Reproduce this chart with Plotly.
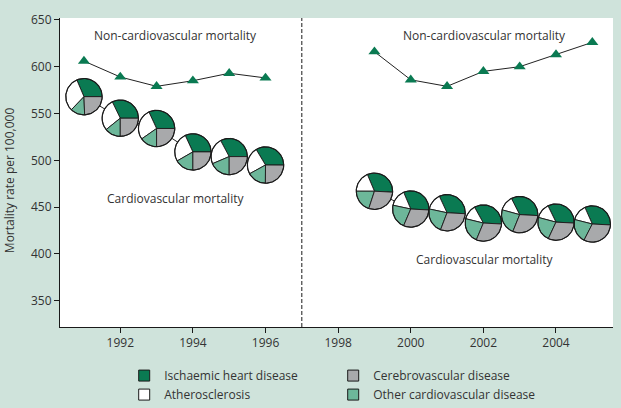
import numpy as np
import plotly.graph_objects as go

# ---------------- data ----------------
years_a = [1991, 1992, 1993, 1994, 1995, 1996]
noncv_a = [606, 589, 579, 585, 593, 588]
cv_a = [568, 545, 534, 509, 504, 495]

years_b = [1999, 2000, 2001, 2002, 2003, 2004, 2005]
noncv_b = [616, 586, 579, 595, 600, 613, 626]
cv_b = [467, 448, 444, 433, 442, 434, 432]

# composition of cardiovascular mortality (% share), per year
ihd_a = [31.4, 32.2, 31.9, 31.9, 32.8, 33.6]
ath_a = [31.4, 28.6, 27.8, 26.4, 23.6, 24.4]
oth_a = [12.8, 14.2, 15.3, 16.7, 18.6, 16.9]
cbv_a = [24.4, 25.0, 25.0, 25.0, 25.0, 25.0]

ihd_b = [32.2, 32.2, 32.8, 33.9, 33.3, 33.1, 32.5]
ath_b = [18.6, 15.3, 14.7, 13.1, 13.3, 13.6, 14.4]
oth_b = [20.0, 21.9, 22.5, 22.5, 23.1, 22.2, 21.4]
cbv_b = [29.2, 30.6, 30.0, 30.5, 30.3, 31.1, 31.7]

break_year = 1997
y_ticks = [350, 400, 450, 500, 550, 600, 650]
x_ticks = [1992, 1994, 1996, 1998, 2000, 2002, 2004]

categories = ["Ischaemic heart disease", "Cerebrovascular disease",
              "Atherosclerosis", "Other cardiovascular disease"]

# ---------------- style ----------------
C_IHD = "#0a7a52"
C_ATH = "#ffffff"
C_CBV = "#a8a9ab"
C_OTH = "#6db79a"
cat_colors = {"Ischaemic heart disease": C_IHD, "Cerebrovascular disease": C_CBV,
              "Atherosclerosis": C_ATH, "Other cardiovascular disease": C_OTH}
BG = "#cfe3db"
TXT = "#333333"
FONT = "Open Sans"

W, H = 621, 408
M = dict(l=60, r=8, t=18, b=81)
XR = [1990.34, 2005.57]
YR = [322, 652]
px_x = (W - M["l"] - M["r"]) / (XR[1] - XR[0])
px_y = (H - M["t"] - M["b"]) / (YR[1] - YR[0])
R = 18.2
rx, ry = R / px_x, R / px_y


def wedge(cx, cy, a0, a1):
    n = max(int(abs(a1 - a0) / 3) + 2, 3)
    t = np.radians(np.linspace(a0, a1, n))
    xs = [cx] + list(cx + rx * np.cos(t)) + [cx]
    ys = [cy] + list(cy + ry * np.sin(t)) + [cy]
    return xs, ys


fig = go.Figure()

# connecting lines
for yrs, vals in [(years_a, noncv_a), (years_b, noncv_b)]:
    fig.add_trace(go.Scatter(x=yrs, y=vals, mode="lines+markers",
                             line=dict(color="#222222", width=1),
                             marker=dict(symbol="triangle-up", size=10.5, color=C_IHD,
                                         line=dict(width=0)),
                             showlegend=False, hoverinfo="skip"))
for yrs, vals in [(years_a, cv_a), (years_b, cv_b)]:
    fig.add_trace(go.Scatter(x=yrs, y=vals, mode="lines",
                             line=dict(color="#222222", width=1),
                             showlegend=False, hoverinfo="skip"))

# pies
def add_pies(yrs, vals, ihd, ath, oth, cbv, start):
    for i, (yr, v) in enumerate(zip(yrs, vals)):
        a = start
        for share, col in [(ihd[i], C_IHD), (ath[i], C_ATH), (oth[i], C_OTH), (cbv[i], C_CBV)]:
            span = share / 100 * 360
            xs, ys = wedge(yr, v, a, a + span)
            fig.add_trace(go.Scatter(x=xs, y=ys, mode="lines", fill="toself",
                                     fillcolor=col, line=dict(color="#1a1a1a", width=0.9),
                                     showlegend=False, hoverinfo="skip"))
            a += span
        t = np.radians(np.linspace(0, 360, 121))
        fig.add_trace(go.Scatter(x=yr + rx * np.cos(t), y=v + ry * np.sin(t), mode="lines",
                                 line=dict(color="#1a1a1a", width=1.1),
                                 showlegend=False, hoverinfo="skip"))


add_pies(years_a, cv_a, ihd_a, ath_a, oth_a, cbv_a, 0)
add_pies(years_b, cv_b, ihd_b, ath_b, oth_b, cbv_b, -3)

# legend entries
for name in categories:
    fig.add_trace(go.Scatter(x=[None], y=[None], mode="markers", name=name,
                             marker=dict(symbol="square", size=11, color=cat_colors[name],
                                         line=dict(color="#1a1a1a", width=1))))

fig.add_shape(type="line", x0=break_year, x1=break_year, y0=0, y1=1,
              xref="x", yref="paper", line=dict(color="#1a1a1a", width=1, dash="4px,2px"))

ann = [
    ("Non-cardiovascular mortality", 1993.51, 633),
    ("Non-cardiovascular mortality", 2002.02, 633),
    ("Cardiovascular mortality", 1993.51, 459),
    ("Cardiovascular mortality", 2002.02, 394),
]
for txt, x, y in ann:
    fig.add_annotation(x=x, y=y, text=txt, showarrow=False,
                       font=dict(family=FONT, size=12, color=TXT))

fig.add_annotation(x=-0.09, y=0.476, xref="paper", yref="paper", text="Mortality rate per 100,000",
                   xanchor="center", yanchor="middle",
                   textangle=-90, showarrow=False, font=dict(family=FONT, size=12, color=TXT))

fig.update_layout(
    width=W, height=H, margin=M,
    paper_bgcolor=BG, plot_bgcolor="white",
    font=dict(family=FONT, size=12, color=TXT),
    xaxis=dict(range=XR, tickvals=x_ticks, showgrid=False, zeroline=False,
               showline=True, linecolor="#1a1a1a", linewidth=1,
               ticks="outside", ticklen=5, tickcolor="#1a1a1a",
               tickfont=dict(family=FONT, size=12, color=TXT)),
    yaxis=dict(range=YR, tickvals=y_ticks, showgrid=False, zeroline=False,
               showline=True, linecolor="#1a1a1a", linewidth=1,
               ticks="outside", ticklen=5, tickcolor="#1a1a1a",
               tickfont=dict(family=FONT, size=12, color=TXT)),
    legend=dict(orientation="h", xref="container", yref="container",
                x=0.2, xanchor="left", y=0.115, yanchor="top",
                entrywidth=164, entrywidthmode="pixels", bgcolor="rgba(0,0,0,0)",
                font=dict(family=FONT, size=12, color=TXT), traceorder="normal",
                tracegroupgap=0),
    showlegend=True,
)

fig.write_html("out.html", config={"displayModeBar": False},
               post_script="document.body.style.margin='0';")
